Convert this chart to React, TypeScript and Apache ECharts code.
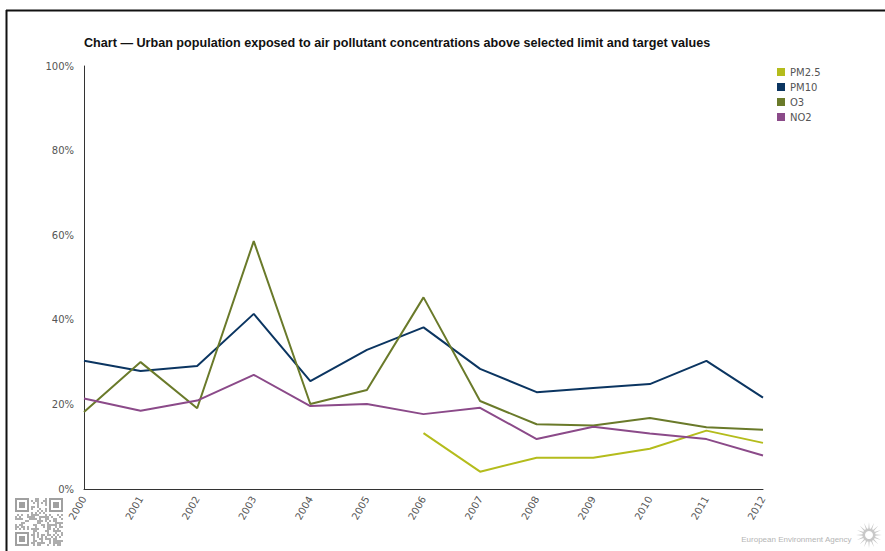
import React, { useEffect, useRef } from "react";
import * as echarts from "echarts";

const years = ["2000","2001","2002","2003","2004","2005","2006","2007","2008","2009","2010","2011","2012"];
const pm25: (number | null)[] = [null, null, null, null, null, null, 13.2, 4.1, 7.4, 7.4, 9.5, 13.8, 10.9];
const pm10 = [30.3, 27.9, 29.1, 41.4, 25.5, 32.9, 38.2, 28.4, 22.9, 23.9, 24.8, 30.3, 21.6];
const o3 = [18.2, 30.0, 19.1, 58.6, 20.1, 23.4, 45.3, 20.8, 15.3, 15.0, 16.8, 14.6, 14.0];
const no2 = [21.4, 18.5, 20.9, 27.0, 19.6, 20.1, 17.7, 19.2, 11.8, 14.7, 13.1, 11.8, 7.9];
const seriesNames = ["PM2.5", "PM10", "O3", "NO2"];
const colors = ["#b4bc1c", "#0b3561", "#6a7a2a", "#8b4a89"];
const titleText = "Chart \u2014 Urban population exposed to air pollutant concentrations above selected limit and target values";

function qrRects() {
  const out: any[] = [];
  const n = 24;
  const s = 2;
  const x0 = 15, y0 = 498;
  let seed = 12345;
  const next = () => { seed = (seed * 1103515245 + 12345) & 0x7fffffff; return (seed >> 16) & 1; };
  const finder = (fx: number, fy: number) => {
    out.push({ type: "rect", shape: { x: x0 + fx * s + 1, y: y0 + fy * s + 1, width: 7 * s - 2, height: 7 * s - 2 }, style: { fill: "none", stroke: "#a0a0a0", lineWidth: 2 } });
    out.push({ type: "rect", shape: { x: x0 + (fx + 2) * s, y: y0 + (fy + 2) * s, width: 3 * s, height: 3 * s }, style: { fill: "#a0a0a0" } });
  };
  for (let r = 0; r < n; r++) {
    for (let c = 0; c < n; c++) {
      const inF = (r < 8 && c < 8) || (r < 8 && c >= n - 8) || (r >= n - 8 && c < 8);
      if (inF) continue;
      if (next() === 1) {
        out.push({ type: "rect", shape: { x: x0 + c * s, y: y0 + r * s, width: s, height: s }, style: { fill: "#adadad" } });
      }
    }
  }
  finder(0, 0);
  finder(n - 7, 0);
  finder(0, n - 7);
  return out;
}

function sunRays() {
  const out: any[] = [];
  const cx = 869, cy = 535;
  const k = 16;
  for (let i = 0; i < k; i++) {
    const a = (i / k) * Math.PI * 2;
    const a1 = a - 0.11, a2 = a + 0.11;
    out.push({
      type: "polygon",
      shape: { points: [
        [cx + 6 * Math.cos(a1), cy + 6 * Math.sin(a1)],
        [cx + 13 * Math.cos(a), cy + 13 * Math.sin(a)],
        [cx + 6 * Math.cos(a2), cy + 6 * Math.sin(a2)],
      ] },
      style: { fill: "#c8c8c8" },
    });
  }
  out.push({ type: "ring", shape: { cx, cy, r: 6.5, r0: 4 }, style: { fill: "#c8c8c8" } });
  return out;
}

export default function App() {
  const ref = useRef<HTMLDivElement>(null);
  useEffect(() => {
    if (!ref.current) return;
    const chart = echarts.init(ref.current, undefined, { renderer: "svg" });
    const data = [pm25, pm10, o3, no2];
    chart.setOption({
      animation: false,
      backgroundColor: "#ffffff",
      textStyle: { fontFamily: "Liberation Sans, Arial, sans-serif" },
      grid: { left: 84, right: 122, top: 66, bottom: 62 },
      legend: {
        orient: "vertical",
        left: 772,
        top: 62,
        itemWidth: 8,
        itemHeight: 8,
        itemGap: 5,
        icon: "rect",
        data: seriesNames,
        textStyle: { fontSize: 10, color: "#555", fontFamily: "DejaVu Sans" },
      },
      xAxis: {
        type: "category",
        data: years,
        boundaryGap: false,
        axisLine: { lineStyle: { color: "#333", width: 1 } },
        axisTick: { show: false },
        axisLabel: { rotate: 60, fontSize: 10, color: "#555", margin: 8, interval: 0, fontFamily: "DejaVu Sans" },
        splitLine: { show: false },
      },
      yAxis: {
        type: "value",
        min: 0,
        max: 100,
        interval: 20,
        axisLine: { show: true, lineStyle: { color: "#333", width: 1 } },
        axisTick: { show: false },
        splitLine: { show: false },
        axisLabel: { formatter: "{value}%", fontSize: 10, color: "#555", margin: 10, fontFamily: "DejaVu Sans" },
      },
      series: seriesNames.map((name, i) => ({
        name,
        type: "line",
        data: data[i],
        showSymbol: false,
        symbol: "none",
        connectNulls: false,
        itemStyle: { color: colors[i] },
        lineStyle: { color: colors[i], width: 2 },
      })),
      graphic: [
        { type: "line", shape: { x1: 6.5, y1: 10, x2: 6.5, y2: 551 }, style: { stroke: "#111", lineWidth: 2 } },
        { type: "line", shape: { x1: 6, y1: 10.5, x2: 885, y2: 10.5 }, style: { stroke: "#111", lineWidth: 2 } },
        {
          type: "text",
          left: 84,
          top: 36,
          style: { text: titleText, font: "bold 12.6px 'Liberation Sans', Arial, sans-serif", fill: "#111" },
        },
        {
          type: "text",
          right: 33,
          top: 535,
          style: { text: "European Environment Agency", font: "8px 'Liberation Sans', Arial, sans-serif", fill: "#b5b5b5" },
        },
        ...qrRects(),
        ...sunRays(),
      ],
    });
    return () => chart.dispose();
  }, []);
  return <div ref={ref} style={{ position: "fixed", left: 0, top: 0, width: 885, height: 551 }} />;
}
